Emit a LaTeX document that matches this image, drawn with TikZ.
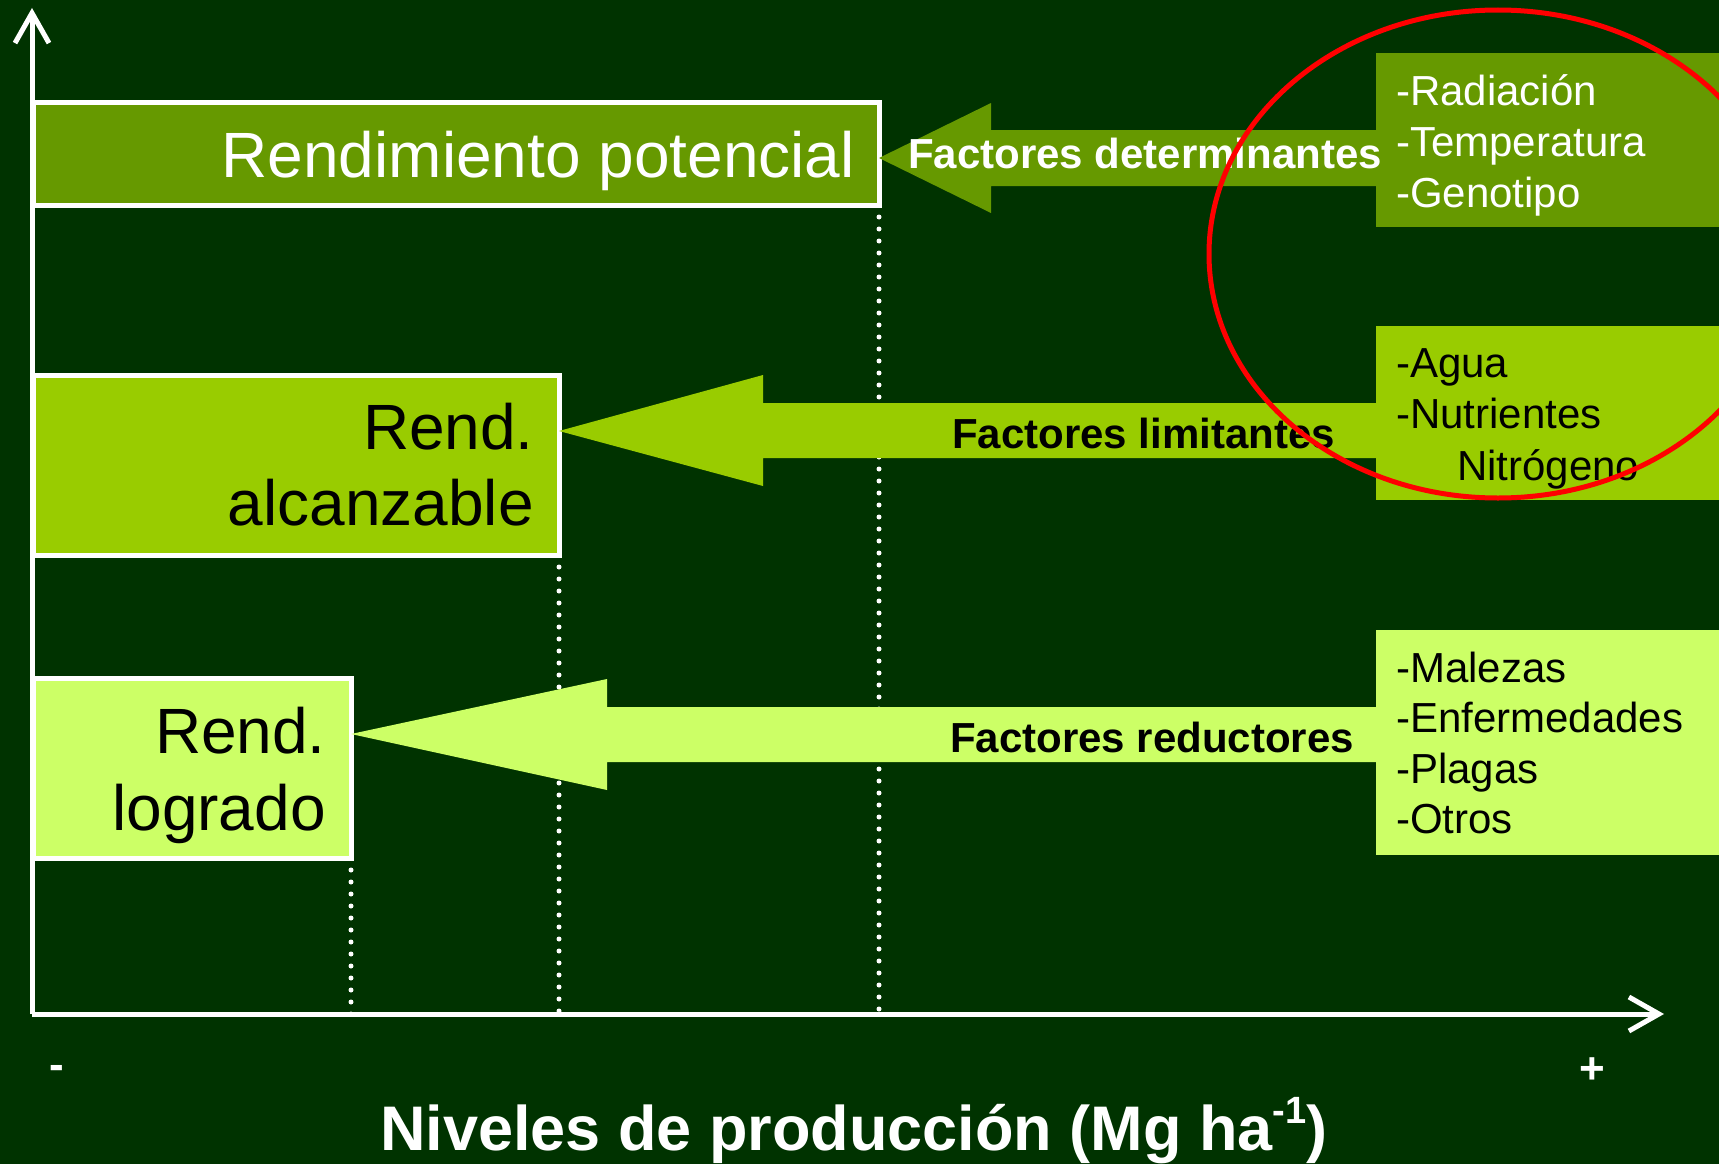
\documentclass[tikz,border=0pt]{standalone}
\usepackage{fontspec}
\setmainfont{Liberation Sans}
\usetikzlibrary{arrows.meta}
\definecolor{bg}{HTML}{003300}
\definecolor{gA}{HTML}{669900}
\definecolor{gB}{HTML}{99CC00}
\definecolor{gC}{HTML}{CCFF66}
\newcommand{\fsz}[1]{\fontsize{#1}{#1}\selectfont}
\begin{document}
\begin{tikzpicture}[x=1pt,y=-1pt,
  ybox/.style={draw=white, line width=5pt, inner sep=0pt, outer sep=0pt, anchor=north west, rectangle},
  fbox/.style={inner sep=0pt, outer sep=0pt, anchor=north west, rectangle, minimum width=360pt},
  boxlabel/.style={inner sep=0pt, anchor=base east, font=\fsz{64}},
  lst/.style={inner sep=0pt, anchor=base west, font=\fsz{42}},
  fac/.style={inner sep=0pt, anchor=base west, font=\fsz{42}\bfseries},
  axisline/.style={draw=white, line width=5pt, -{Straight Barb[length=30pt,width=34pt]}},
  dotline/.style={draw=white, line width=5pt, line cap=round, dash pattern=on 0pt off 12pt},
]
\clip (0,0) rectangle (1719,1164);
\fill[bg] (0,0) rectangle (1719,1164);

% axes
\coordinate (O) at (32,1014);
\coordinate (ytop) at (32,8);
\coordinate (xend) at (1664,1014);
\draw[axisline] (O) -- (ytop);
\draw[axisline] (O) -- (xend);

% left boxes
\node[ybox, fill=gA, minimum width=846pt, minimum height=103pt] (pot) at (33,102) {};
\node[ybox, fill=gB, minimum width=526pt, minimum height=180pt] (alc) at (33,375) {};
\node[ybox, fill=gC, minimum width=318pt, minimum height=180pt] (log) at (33,678) {};

% dotted guides
\draw[dotline] ([yshift=-12pt]pot.south east) -- (pot.south east |- O);
\draw[dotline] ([yshift=-12pt]alc.south east) -- (alc.south east |- O);
\draw[dotline] ([yshift=-12pt]log.south east) -- (log.south east |- O);

% right boxes
\node[fbox, fill=gA, minimum height=174pt] (det) at (1376,53) {};
\node[fbox, fill=gB, minimum height=174pt] (lim) at (1376,326) {};
\node[fbox, fill=gC, minimum height=225pt] (red) at (1376,630) {};

% block arrows
\fill[gA] ([yshift=-56pt]pot.north east) -- (991,103) -- (991,130) -- (1378,130)
  -- (1378,186) -- (991,186) -- (991,213) -- cycle;
\fill[gB] ([yshift=-56pt]alc.north east) -- (763,375) -- (763,403) -- (1378,403)
  -- (1378,458) -- (763,458) -- (763,486) -- cycle;
\fill[gC] ([yshift=-56pt]log.north east) -- (607,679) -- (607,707) -- (1378,707)
  -- (1378,762) -- (607,762) -- (607,790) -- cycle;

% box labels
\node[boxlabel, text=white] (potT) at (855,177) {Rendimiento potencial};
\node[boxlabel] (alcT1) at (534,449) {Rend.};
\node[boxlabel] (alcT2) at (534,525) {alcanzable};
\node[boxlabel] (logT1) at (326,753) {Rend.};
\node[boxlabel] (logT2) at (326,830) {logrado};

% arrow labels
\node[fac, text=white] (fdetT) at (908,168) {Factores determinantes};
\node[fac] (flimT) at (952,448) {Factores limitantes};
\node[fac] (fredT) at (950,752) {Factores reductores};

% lists
\node[lst, text=white] (l1) at (1396,105) {-Radiación};
\node[lst, text=white] (l2) at (1396,156) {-Temperatura};
\node[lst, text=white] (l3) at (1396,207) {-Genotipo};
\node[lst] (l4) at (1396,377) {-Agua};
\node[lst] (l5) at (1396,428) {-Nutrientes};
\node[lst] (l6) at (1457,480) {Nitrógeno};
\node[lst] (l7) at (1396,682) {-Malezas};
\node[lst] (l8) at (1396,732) {-Enfermedades};
\node[lst] (l9) at (1396,783) {-Plagas};
\node[lst] (l10) at (1396,833) {-Otros};

% axis labels
\node[inner sep=0pt, anchor=base, font=\fsz{44}\bfseries, text=white] (minus) at (57,1079) {-};
\node[inner sep=0pt, anchor=base, font=\fsz{44}\bfseries, text=white] (plus) at (1592,1083) {+};
\node[inner sep=0pt, anchor=base, font=\fsz{63}\bfseries, text=white] (title) at (854,1150)
  {Niveles de producción (Mg ha\raisebox{0.42em}{\fsz{38}-1})};

% red ellipse
\draw[red, line width=5pt] (1498,254) ellipse [x radius=289, y radius=244];
\end{tikzpicture}
\end{document}
